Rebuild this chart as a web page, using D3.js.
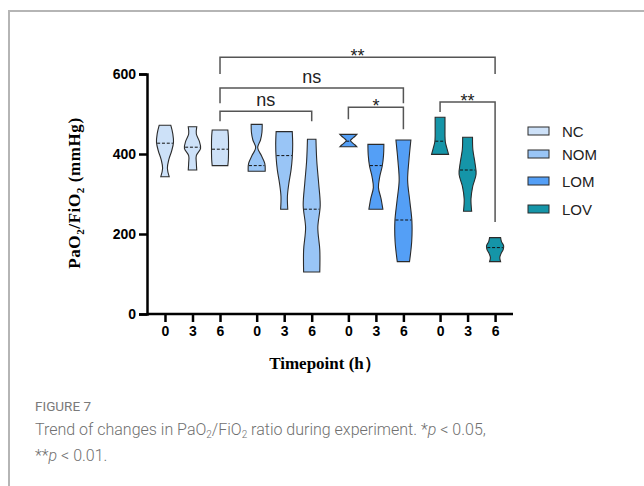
<!DOCTYPE html>
<html>
<head>
<meta charset="utf-8">
<script src="https://cdn.jsdelivr.net/npm/d3@7"></script>
<style>
  body { margin: 0; background: #fff; }
  svg { display: block; }
</style>
</head>
<body>
<svg id="chart" width="644" height="486"></svg>
<script>
// groups, timepoints and the values
const groups = ["NC", "NOM", "LOM", "LOV"]
const timepoints = ["0", "3", "6"]
const vMin = [[343, 360, 371], [357, 262, 105], [418, 262, 131], [399, 257, 131]]
const vMax = [[472, 468, 460], [474, 456, 437], [449, 424, 435], [492, 442, 191]]
const vMedian = [[427, 417, 412], [371, 396, 262], [432, 371, 235], [432, 360, 166]]
// relative width of each violin, from its minimum (first) to its maximum (last)
const vProfile = [
	[[0.5, 0.28, 0.45, 0.78, 1.0, 0.92, 0.68], [0.5, 0.45, 0.45, 0.95, 0.8, 0.45, 0.5], [0.92, 0.98, 1, 1, 1, 0.98, 0.92]],
	[[1.0, 0.95, 0.55, 0.12, 0.45, 0.62, 0.65], [0.42, 0.38, 0.55, 0.8, 0.95, 1.0, 0.95], [0.95, 0.95, 0.72, 1.0, 0.82, 0.6, 0.5]],
	[[1.0, 0.75, 0.45, 0.25, 0.45, 0.75, 1.0], [0.82, 0.6, 0.3, 0.45, 0.75, 0.9, 0.94], [0.72, 0.98, 1.0, 0.75, 0.5, 0.65, 0.88]],
	[[1.0, 0.8, 0.62, 0.58, 0.58, 0.58, 0.58], [0.48, 0.4, 0.6, 1.0, 0.85, 0.62, 0.58], [0.65, 0.55, 0.7, 0.95, 1.0, 0.75, 0.65]]
]
const yTicks = [0, 200, 400, 600]

// significance brackets: [group, timepoint] at each end, bar level and leg ends (data units)
const comparisons = [
	{ from: [0, 2], to: [3, 2], bar: 642, legs: [600, 600], label: "**", big: false },
	{ from: [0, 2], to: [2, 2], bar: 565, legs: [527, 527], label: "ns", big: true },
	{ from: [0, 2], to: [1, 2], bar: 507, legs: [482, 482], label: "ns", big: true },
	{ from: [2, 0], to: [2, 2], bar: 517, legs: [487, 462], label: "*", big: false },
	{ from: [3, 0], to: [3, 2], bar: 530, legs: [505, 230], label: "**", big: false }
]

const colours = {
	NC: "#cde1f8",
	NOM: "#99c5f6",
	LOM: "#549ff6",
	LOV: "#1595a8",
	stroke: "#2b2b2b",
	bracket: "#555"
}

const svg = d3.select("#chart")

// frame of the figure panel
svg.append("path")
	.attr("d", "M9,486 V11 H644")
	.attr("fill", "none")
	.attr("stroke", "#b5b5b5")
	.attr("stroke-width", 2)

const groupGap = 3.333
const pos = (g, t) => g * groupGap + t

const x = d3.scaleLinear().domain([-0.654, 12.65]).range([147, 513])
const y = d3.scaleLinear().domain([0, 600]).range([314, 74])
const halfMax = 8.5

/**
 * Axes
 */
const xTickVals = []
const xTickText = []
groups.forEach((g, gi) => timepoints.forEach((t, ti) => {
	xTickVals.push(pos(gi, ti))
	xTickText.push(t)
}))

const xAxis = svg.append("g")
	.attr("transform", `translate(0,${y(0)})`)
	.call(d3.axisBottom(x).tickValues(xTickVals)
		.tickFormat((d, i) => xTickText[i]).tickSizeOuter(0).tickSize(8).tickPadding(4))

const yAxis = svg.append("g")
	.attr("transform", `translate(${x.range()[0]},0)`)
	.call(d3.axisLeft(y).tickValues(yTicks).tickSizeOuter(0).tickSize(8).tickPadding(3))

;[xAxis, yAxis].forEach(a => {
	a.selectAll("path, line").attr("stroke", "#000").attr("stroke-width", 2.5)
	a.selectAll("text")
		.attr("fill", "#000")
		.style("font-family", "Liberation Sans, Arial, sans-serif")
		.style("font-weight", "bold")
		.style("font-size", "14px")
})
xAxis.select(".domain").attr("d", `M${x.range()[0]},0H${x.range()[1]}`)

/**
 * Violins
 */
const area = d3.area()
	.curve(d3.curveCatmullRom.alpha(0.5))
	.y(d => y(d.v))
	.x0(d => d.cx - d.w)
	.x1(d => d.cx + d.w)

const violins = []
groups.forEach((g, gi) => timepoints.forEach((t, ti) => {
	violins.push({
		group: g,
		cx: x(pos(gi, ti)),
		min: vMin[gi][ti],
		max: vMax[gi][ti],
		median: vMedian[gi][ti],
		profile: vProfile[gi][ti]
	})
}))

const violin = svg.selectAll(".violin")
	.data(violins)
	.enter()
	.append("g")
	.attr("class", "violin")

violin.append("path")
	.attr("d", d => {
		const n = d.profile.length - 1
		return area(d.profile.map((p, i) => ({
			cx: d.cx,
			v: d.min + (i / n) * (d.max - d.min),
			w: p * halfMax
		})))
	})
	.attr("fill", d => colours[d.group])
	.attr("stroke", colours.stroke)
	.attr("stroke-width", 1.1)

// dashed median line, as wide as the violin at that level
violin.append("line")
	.attr("x1", d => d.cx - medianHalf(d))
	.attr("x2", d => d.cx + medianHalf(d))
	.attr("y1", d => y(d.median))
	.attr("y2", d => y(d.median))
	.attr("stroke", "#111")
	.attr("stroke-width", 1)
	.attr("stroke-dasharray", "3,1.8")

function medianHalf(d) {
	const n = d.profile.length - 1
	const f = ((d.median - d.min) / (d.max - d.min)) * n
	const i = Math.min(Math.floor(f), n - 1)
	const w = d.profile[i] + (d.profile[i + 1] - d.profile[i]) * (f - i)
	return w * halfMax - 0.5
}

/**
 * Significance brackets
 */
const bracket = svg.selectAll(".bracket")
	.data(comparisons)
	.enter()
	.append("g")
	.attr("class", "bracket")

bracket.append("path")
	.attr("d", d => {
		const x1 = x(pos(...d.from))
		const x2 = x(pos(...d.to))
		return `M${x1},${y(d.legs[0])}V${y(d.bar)}H${x2}V${y(d.legs[1])}`
	})
	.attr("fill", "none")
	.attr("stroke", colours.bracket)
	.attr("stroke-width", 1.5)

bracket.append("text")
	.attr("x", d => (x(pos(...d.from)) + x(pos(...d.to))) / 2)
	.attr("y", d => y(d.bar) + (d.big ? -5 : 5))
	.attr("text-anchor", "middle")
	.style("font-family", "Liberation Sans, Arial, sans-serif")
	.style("font-size", "18px")
	.attr("fill", "#222")
	.text(d => d.label)

/**
 * Legend
 */
const legendY = [131, 154, 181, 209]
const legend = svg.selectAll(".legend")
	.data(groups)
	.enter()
	.append("g")
	.attr("class", "legend")
	.attr("transform", (d, i) => `translate(528,${legendY[i]})`)

legend.append("rect")
	.attr("x", 0)
	.attr("y", -4)
	.attr("width", 21)
	.attr("height", 8)
	.attr("fill", d => colours[d])
	.attr("stroke", colours.stroke)
	.attr("stroke-width", 1)

legend.append("text")
	.attr("x", 34)
	.attr("y", 5.5)
	.style("font-family", "Liberation Sans, Arial, sans-serif")
	.style("font-size", "15px")
	.attr("fill", "#222")
	.text(d => d)

/**
 * Axis titles
 */
svg.append("text")
	.attr("x", 325)
	.attr("y", 369)
	.attr("text-anchor", "middle")
	.style("font-family", "Liberation Serif, Times New Roman, serif")
	.style("font-weight", "bold")
	.style("font-size", "17px")
	.text("Timepoint (h）")

const yTitle = svg.append("text")
	.attr("transform", "translate(80,193) rotate(-90)")
	.attr("text-anchor", "middle")
	.style("font-family", "Liberation Serif, Times New Roman, serif")
	.style("font-weight", "bold")
	.style("font-size", "17px")
	.style("letter-spacing", "0.6px")
yTitle.append("tspan").text("PaO")
yTitle.append("tspan").attr("dy", 4).style("font-size", "11px").text("2")
yTitle.append("tspan").attr("dy", -4).text("/FiO")
yTitle.append("tspan").attr("dy", 4).style("font-size", "11px").text("2")
yTitle.append("tspan").attr("dy", -4).text(" (mmHg)")

/**
 * Caption
 */
svg.append("text")
	.attr("x", 35)
	.attr("y", 411)
	.style("font-family", "Roboto, sans-serif")
	.style("font-size", "13.5px")
	.attr("fill", "#7a7a7a")
	.text("FIGURE 7")

const cap1 = svg.append("text")
	.attr("x", 35)
	.attr("y", 435)
	.style("font-family", "Roboto, sans-serif")
	.style("font-weight", 300)
	.style("font-size", "16px")
	.attr("fill", "#6f6f6f")
cap1.append("tspan").text("Trend of changes in PaO")
cap1.append("tspan").attr("dy", 3).style("font-size", "10px").text("2")
cap1.append("tspan").attr("dy", -3).text("/FiO")
cap1.append("tspan").attr("dy", 3).style("font-size", "10px").text("2")
cap1.append("tspan").attr("dy", -3).text(" ratio during experiment. *")
cap1.append("tspan").style("font-style", "italic").text("p")
cap1.append("tspan").text(" < 0.05,")

const cap2 = svg.append("text")
	.attr("x", 35)
	.attr("y", 461)
	.style("font-family", "Roboto, sans-serif")
	.style("font-weight", 300)
	.style("font-size", "16px")
	.attr("fill", "#6f6f6f")
cap2.append("tspan").text("**")
cap2.append("tspan").style("font-style", "italic").text("p")
cap2.append("tspan").text(" < 0.01.")
</script>
</body>
</html>
